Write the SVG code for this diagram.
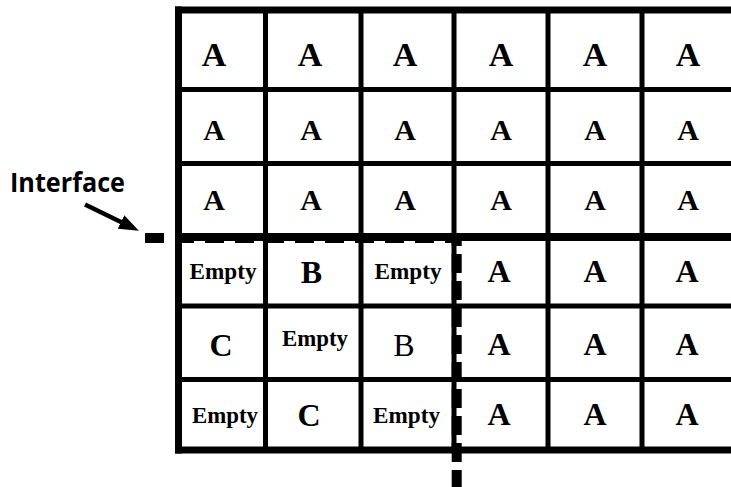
<svg xmlns="http://www.w3.org/2000/svg" width="731" height="487" viewBox="0 0 731 487">
<defs>
<style>
.bg{fill:#ffffff}
.ln{stroke:#000;fill:none;stroke-linecap:butt}
.outer{stroke-width:7}
.inner{stroke-width:5}
.thick{stroke-width:8}
.iface{stroke:#000;fill:none;stroke-width:10}
.t{font-family:"Liberation Serif","Times New Roman",serif;font-weight:bold;fill:#000;text-anchor:middle}
.a1{font-size:34px}
.a2{font-size:30px}
.a4{font-size:32px}
.big{font-size:32px}
.emp{font-size:23px}
.reg{font-weight:normal}
.lbl{font-family:"Open Sans","Liberation Sans",Arial,sans-serif;font-weight:bold;font-size:26px;fill:#000}
</style>
<marker id="ah" viewBox="0 0 20 15" refX="4.5" refY="7.5" markerWidth="20" markerHeight="15" markerUnits="userSpaceOnUse" orient="auto">
<path d="M0,0 L20,7.5 L0,15 Z" fill="#000"/>
</marker>
</defs>
<rect class="bg" x="0" y="0" width="731" height="487"/>

<g id="grid">
<path class="ln outer" d="M175 10 H731"/>
<path class="ln inner" d="M175 89.5 H731"/>
<path class="ln inner" d="M175 163.5 H731"/>
<path class="ln thick" d="M175 237 H731"/>
<path class="ln inner" d="M175 306 H731"/>
<path class="ln inner" d="M175 379.5 H731"/>
<path class="ln outer" d="M175 450 H731"/>
<path class="ln outer" d="M178.5 6.5 V453.5"/>
<path class="ln inner" d="M265.5 7 V453"/>
<path class="ln inner" d="M361 7 V453"/>
<path class="ln inner" d="M454 7 V453"/>
<path class="ln inner" d="M548 7 V453"/>
<path class="ln inner" d="M642 7 V453"/>
</g>

<g id="interface-boundary">
<path class="iface" d="M145 238 H456" stroke-dasharray="19 11"/>
<path class="iface" d="M456.7 237 V487" stroke-dasharray="19 8" stroke-dashoffset="10"/>
</g>

<g id="label-interface">
<text class="lbl" x="10" y="192" textLength="115" lengthAdjust="spacingAndGlyphs">Interface</text>
</g>

<g id="connectors">
<path d="M85 204.5 L125 224" stroke="#000" stroke-width="4.5" fill="none" marker-end="url(#ah)"/>
</g>

<g id="r1c1"><text class="t a1" x="214" y="66">A</text></g>
<g id="r1c2"><text class="t a1" x="310" y="66">A</text></g>
<g id="r1c3"><text class="t a1" x="405" y="66">A</text></g>
<g id="r1c4"><text class="t a1" x="501" y="66">A</text></g>
<g id="r1c5"><text class="t a1" x="595" y="66">A</text></g>
<g id="r1c6"><text class="t a1" x="688" y="66">A</text></g>

<g id="r2c1"><text class="t a2" x="214" y="140">A</text></g>
<g id="r2c2"><text class="t a2" x="311" y="140">A</text></g>
<g id="r2c3"><text class="t a2" x="405" y="140">A</text></g>
<g id="r2c4"><text class="t a2" x="501" y="140">A</text></g>
<g id="r2c5"><text class="t a2" x="595" y="140">A</text></g>
<g id="r2c6"><text class="t a2" x="688" y="140">A</text></g>

<g id="r3c1"><text class="t a2" x="214" y="210">A</text></g>
<g id="r3c2"><text class="t a2" x="311" y="210">A</text></g>
<g id="r3c3"><text class="t a2" x="405" y="210">A</text></g>
<g id="r3c4"><text class="t a2" x="501" y="210">A</text></g>
<g id="r3c5"><text class="t a2" x="595" y="210">A</text></g>
<g id="r3c6"><text class="t a2" x="688" y="210">A</text></g>

<g id="r4c1"><text class="t emp" x="223" y="279" textLength="67" lengthAdjust="spacingAndGlyphs">Empty</text></g>
<g id="r4c2"><text class="t big" x="311.5" y="283">B</text></g>
<g id="r4c3"><text class="t emp" x="408" y="279" textLength="67" lengthAdjust="spacingAndGlyphs">Empty</text></g>
<g id="r4c4"><text class="t a4" x="499" y="282">A</text></g>
<g id="r4c5"><text class="t a4" x="595" y="282">A</text></g>
<g id="r4c6"><text class="t a4" x="687" y="282">A</text></g>

<g id="r5c1"><text class="t big" x="221" y="356">C</text></g>
<g id="r5c2"><text class="t emp" x="315" y="346" textLength="66" lengthAdjust="spacingAndGlyphs">Empty</text></g>
<g id="r5c3"><text class="t big reg" x="404" y="356">B</text></g>
<g id="r5c4"><text class="t a4" x="499" y="355">A</text></g>
<g id="r5c5"><text class="t a4" x="595" y="355">A</text></g>
<g id="r5c6"><text class="t a4" x="687" y="355">A</text></g>

<g id="r6c1"><text class="t emp" x="225" y="423" textLength="66" lengthAdjust="spacingAndGlyphs">Empty</text></g>
<g id="r6c2"><text class="t big" x="309" y="426">C</text></g>
<g id="r6c3"><text class="t emp" x="406.5" y="423" textLength="67" lengthAdjust="spacingAndGlyphs">Empty</text></g>
<g id="r6c4"><text class="t a4" x="499" y="425">A</text></g>
<g id="r6c5"><text class="t a4" x="595" y="425">A</text></g>
<g id="r6c6"><text class="t a4" x="687" y="425">A</text></g>
</svg>
